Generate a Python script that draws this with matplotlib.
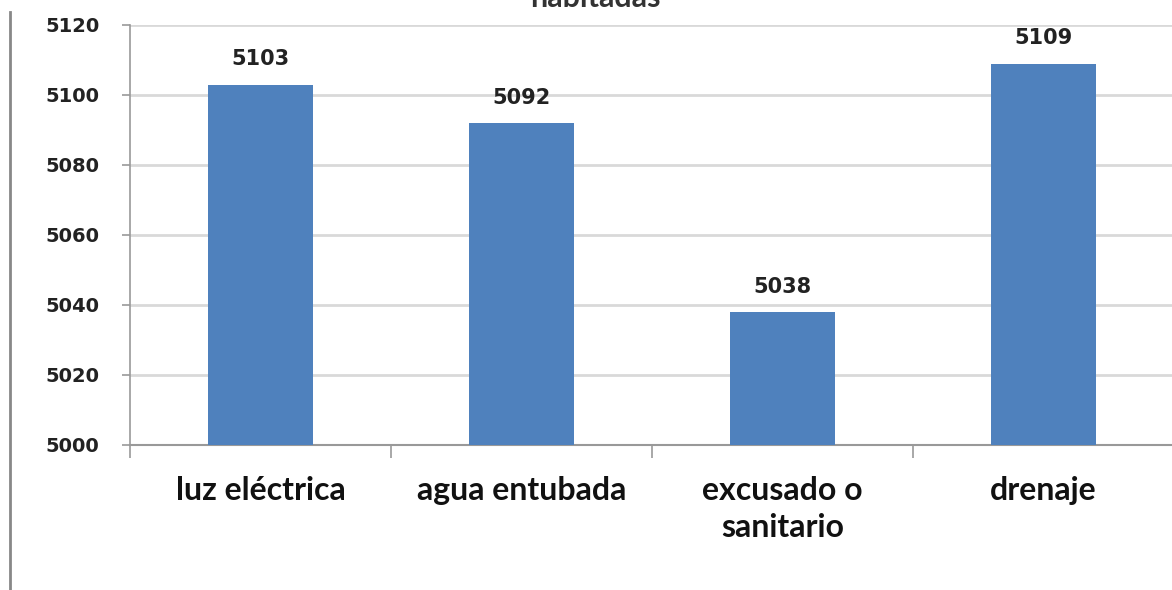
import matplotlib.pyplot as plt
from matplotlib.lines import Line2D

categorias = ["luz eléctrica", "agua entubada", "excusado o\nsanitario", "drenaje"]
valores = [5103, 5092, 5038, 5109]
yticks = [5000, 5020, 5040, 5060, 5080, 5100, 5120]
titulo = "habitadas"

plt.rcParams['font.family'] = ['Lato', 'DejaVu Sans']
num_font = ['DejaVu Sans']

fig = plt.figure(figsize=(11.72, 5.90), dpi=100)
W, H = 1172.0, 590.0
ax = fig.add_axes([130 / W, 1 - 445 / H, 1044 / W, 420 / H])

x = list(range(len(categorias)))
ax.bar(x, [v - 5000 for v in valores], bottom=5000, width=0.4,
       color='#4F81BD', zorder=3)
for xi, v in zip(x, valores):
    ax.annotate(str(v), (xi, v), xytext=(0, 11), textcoords='offset points',
                ha='center', va='bottom', fontsize=15, fontweight='bold',
                family=num_font, color='#222222')

ax.set_xlim(-0.5, len(categorias) - 0.5)
ax.set_ylim(5000, 5120)
ax.set_yticks(yticks)
ax.set_yticklabels([str(t) for t in yticks], fontsize=14, fontweight='bold',
                   family=num_font, color='#222222')
ax.set_xticks(x)
ax.set_xticklabels(categorias, fontsize=23, fontweight='bold', linespacing=1.35,
                   color='#111111')
ax.set_xticks([i + 0.5 for i in range(-1, len(categorias))], minor=True)
ax.tick_params(axis='x', which='major', length=0, pad=22)
ax.tick_params(axis='x', which='minor', length=9, color='#999999', width=1.2)
ax.tick_params(axis='y', length=6, color='#999999', width=1.2, pad=16)

ax.grid(axis='y', color='#d9d9d9', linewidth=2, zorder=0)
for s in ['top', 'right']:
    ax.spines[s].set_visible(False)
ax.spines['left'].set_color('#999999')
ax.spines['bottom'].set_color('#999999')
ax.spines['left'].set_linewidth(1.2)
ax.spines['bottom'].set_linewidth(1.5)

fig.add_artist(Line2D([10 / W, 10 / W], [0, 1 - 12 / H], color='#888888',
                      linewidth=2, transform=fig.transFigure))
fig.text(595 / W, 1 - 7 / H, titulo, ha='center', va='baseline', fontsize=22,
         fontweight='bold', color='#333333')

fig.savefig("out.png", dpi=100)
